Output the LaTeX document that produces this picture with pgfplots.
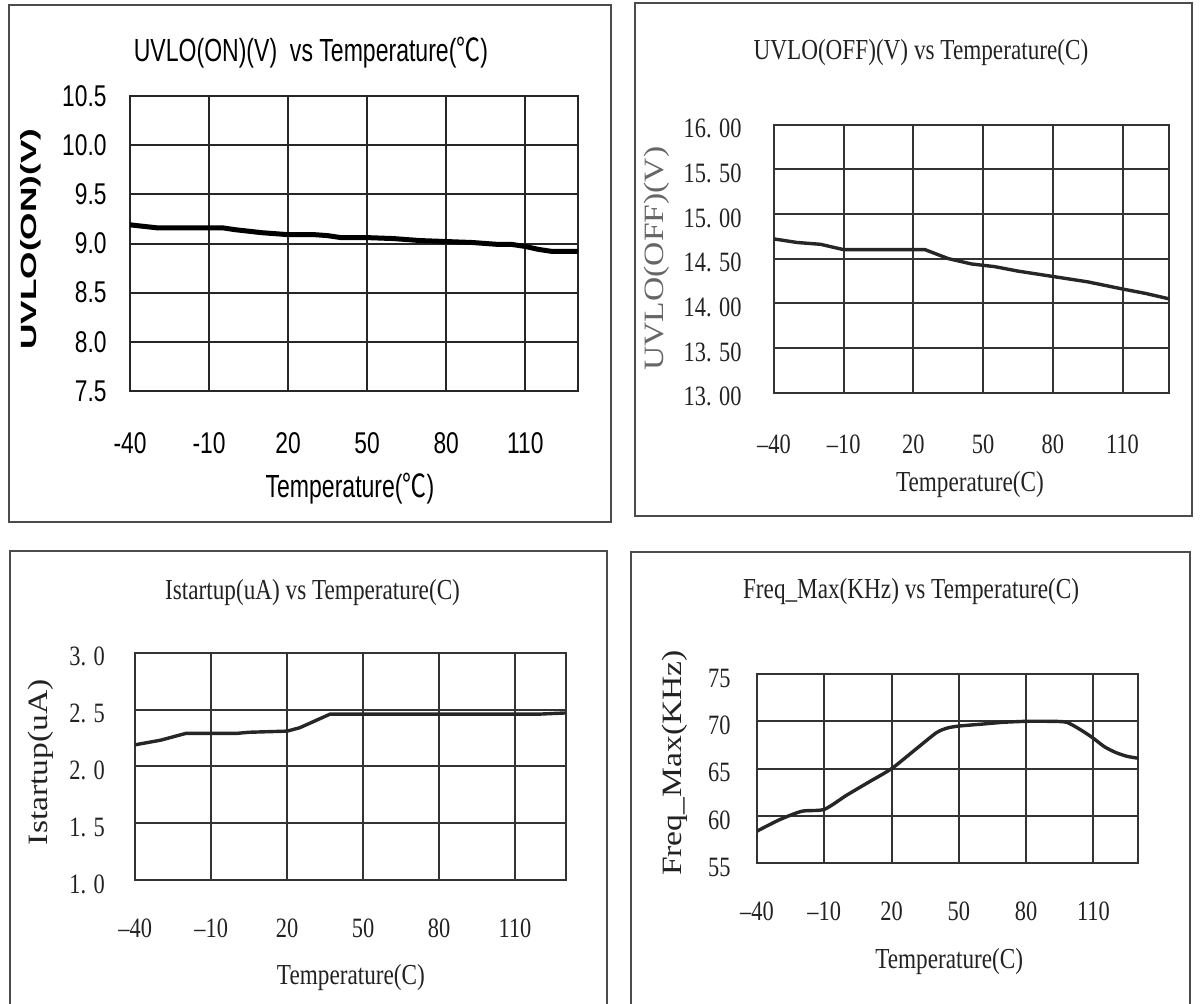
\documentclass[border=0pt]{standalone}
\usepackage{pgfplots}
\pgfplotsset{compat=1.18}
\usepackage{fontspec}
\setmainfont{Liberation Serif}
% condensed / stretched faces to mimic the scanned datasheet fonts
\newfontfamily\arialc[FakeStretch=0.72]{Liberation Sans}
\newfontfamily\arialt[FakeStretch=0.76]{Liberation Sans}
\newfontfamily\arialw[FakeStretch=1.6]{Liberation Sans}
\newfontfamily\cjk[FakeStretch=0.75]{Noto Sans CJK SC}
\newfontfamily\simc[FakeStretch=0.8]{Liberation Serif}
\newfontfamily\simw[FakeStretch=1.2]{Liberation Serif}
\definecolor{ink}{HTML}{222222}

\pgfplotsset{
  panel/.style={
    scale only axis, anchor=south west,
    xmin=-40, xmax=130,
    xtick={-40,-10,20,50,80,110},
    grid=major,
    major grid style={line width=1pt, black!85},
    axis line style={line width=1pt, black!85},
    major tick length=0pt,
  },
  sans/.style={
    xticklabels={-40,-10,20,50,80,110},
    xticklabel style={font=\arialt\fontsize{15}{17}\selectfont, anchor=center, inner sep=0pt, yshift=-26pt},
    yticklabel style={font=\arialt\fontsize{15}{17}\selectfont, anchor=east, inner sep=0pt, xshift=-11.5pt},
  },
  serif/.style={
    xticklabels={–40,–10,20,50,80,110},
    xticklabel style={font=\simc\fontsize{14}{16}\selectfont, text=ink, anchor=center, inner sep=0pt},
    yticklabel style={font=\simc\fontsize{14}{16}\selectfont, text=ink, anchor=east, inner sep=0pt, yshift=-2pt},
    major grid style={line width=1pt, black!80},
    axis line style={line width=1pt, black!80},
  },
}

\begin{document}
\begin{tikzpicture}
\useasboundingbox (0,0) rectangle (600pt,501.5pt);
\draw[line width=0.8pt, black!70] (4.5pt,499pt) rectangle (305.5pt,240.5pt);
\draw[line width=0.8pt, black!70] (317.5pt,500pt) rectangle (596pt,243.5pt);
\draw[line width=0.8pt, black!70] (5pt,226pt) rectangle (303.5pt,-4pt);
\draw[line width=0.8pt, black!70] (315.5pt,225.5pt) rectangle (595pt,-4pt);

% UVLO(ON)
\begin{axis}[panel, sans,
  at={(65pt,306pt)}, width=224pt, height=147.5pt,
  ymin=7.5, ymax=10.5,
  ytick={7.5,8,8.5,9,9.5,10,10.5},
  yticklabels={7.5,8.0,8.5,9.0,9.5,10.0,10.5},
  every axis title/.style={at={([yshift=21.7pt]axis description cs:0.404,1)}, anchor=center, font=\arialc\fontsize{16}{18}\selectfont},
  title={UVLO(ON)(V)\ \ vs Temperature({\cjk ℃})},
  every axis x label/.style={at={([yshift=-48.8pt]axis description cs:0.491,0)}, anchor=center, font=\arialc\fontsize{16}{18}\selectfont},
  xlabel={Temperature({\cjk ℃})},
  every axis y label/.style={at={([xshift=-49.5pt]axis description cs:0,0.515)}, rotate=90, anchor=center, font=\arialw\bfseries\fontsize{11}{13}\selectfont},
  ylabel={UVLO(ON)(V)},
]
\addplot[black, line width=2.5pt, line join=round] coordinates {
(-40,9.19) (-30,9.16) (-20,9.16) (-10,9.16) (-5,9.16) (0,9.14) (10,9.11)
(20,9.09) (30,9.09) (35,9.08) (40,9.06) (50,9.06) (60,9.05) (70,9.03)
(80,9.02) (90,9.01) (100,8.99) (105,8.99) (110,8.97) (115,8.94) (120,8.92) (130,8.92)
};
\end{axis}

% UVLO(OFF)
\begin{axis}[panel, serif,
  at={(387pt,305.15pt)}, width=197.5pt, height=134.1pt,
  ymin=13, ymax=16,
  ytick={13,13.5,14,14.5,15,15.5,16},
  yticklabels={13. 00,13. 50,14. 00,14. 50,15. 00,15. 50,16. 00},
  xticklabel style={yshift=-26pt},
  yticklabel style={xshift=-16pt},
  every axis title/.style={at={([yshift=35.75pt]axis description cs:0.372,1)}, anchor=center, text=ink, font=\simc\fontsize{14.5}{17}\selectfont},
  title={UVLO(OFF)(V) vs Temperature(C)},
  every axis x label/.style={at={([yshift=-46pt]axis description cs:0.496,0)}, anchor=center, text=ink, font=\simc\fontsize{14.5}{17}\selectfont},
  xlabel={Temperature(C)},
  every axis y label/.style={at={([xshift=-58.5pt]axis description cs:0,0.5)}, rotate=90, anchor=center, text=black!60, font=\simw\fontsize{14}{16}\selectfont},
  ylabel={UVLO(OFF)(V)},
]
\addplot[black!85, line width=1.7pt, line join=round] coordinates {
(-40,14.72) (-30,14.68) (-20,14.66) (-10,14.60) (0,14.60) (10,14.60) (20,14.60)
(25,14.60) (35,14.50) (45,14.44) (55,14.41) (65,14.36) (80,14.30) (95,14.24)
(110,14.16) (120,14.11) (130,14.05)
};
\end{axis}

% Istartup
\begin{axis}[panel, serif,
  at={(67.6pt,61.5pt)}, width=215.25pt, height=113.65pt,
  ymin=1, ymax=3,
  ytick={1,1.5,2,2.5,3},
  yticklabels={1. 0,1. 5,2. 0,2. 5,3. 0},
  xticklabel style={yshift=-24pt},
  yticklabel style={xshift=-15pt},
  every axis title/.style={at={([yshift=30.3pt]axis description cs:0.412,1)}, anchor=center, text=ink, font=\simc\fontsize{14.5}{17}\selectfont},
  title={Istartup(uA) vs Temperature(C)},
  every axis x label/.style={at={([yshift=-49pt]axis description cs:0.501,0)}, anchor=center, text=ink, font=\simc\fontsize{14.5}{17}\selectfont},
  xlabel={Temperature(C)},
  every axis y label/.style={at={([xshift=-47pt]axis description cs:0,0.519)}, rotate=90, anchor=center, text=ink, font=\simw\fontsize{14}{16}\selectfont},
  ylabel={Istartup(uA)},
]
\addplot[black!85, line width=1.7pt, line join=round] coordinates {
(-40,2.19) (-30,2.23) (-20,2.29) (-10,2.29) (0,2.29) (5,2.30) (20,2.31)
(25,2.34) (30,2.39) (37,2.46) (50,2.46) (80,2.46) (110,2.46) (120,2.46) (130,2.47)
};
\end{axis}

% Freq_Max
\begin{axis}[panel, serif,
  at={(378.5pt,69.85pt)}, width=190.65pt, height=94.65pt,
  ymin=55, ymax=75,
  ytick={55,60,65,70,75},
  yticklabels={55,60,65,70,75},
  xticklabel style={yshift=-24pt},
  yticklabel style={xshift=-13pt},
  every axis title/.style={at={([yshift=41pt]axis description cs:0.404,1)}, anchor=center, text=ink, font=\simc\fontsize{14.5}{17}\selectfont},
  title={Freq\_Max(KHz) vs Temperature(C)},
  every axis x label/.style={at={([yshift=-49pt]axis description cs:0.504,0)}, anchor=center, text=ink, font=\simc\fontsize{14.5}{17}\selectfont},
  xlabel={Temperature(C)},
  every axis y label/.style={at={([xshift=-41pt]axis description cs:0,0.53)}, rotate=90, anchor=center, text=ink, font=\simw\fontsize{14}{16}\selectfont},
  ylabel={Freq\_Max(KHz)},
]
\addplot[black!85, line width=1.7pt, line join=round, smooth, tension=0.4] coordinates {
(-40,58.4) (-30,59.6) (-20,60.5) (-10,60.7) (0,62.2) (10,63.6) (20,65.0)
(30,66.9) (40,68.8) (45,69.3) (50,69.5) (60,69.7) (70,69.9) (80,70.0)
(90,70.0) (98,69.9) (105,69.0) (110,68.2) (115,67.3) (120,66.7) (125,66.3) (130,66.1)
};
\end{axis}
\end{tikzpicture}
\end{document}
